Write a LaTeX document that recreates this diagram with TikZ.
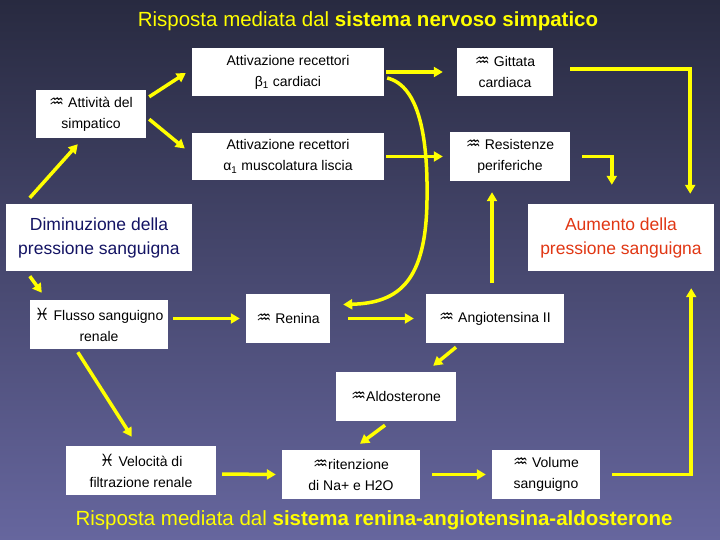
\documentclass[tikz,border=0pt]{standalone}
\usepackage{fontspec}
\setmainfont{Liberation Sans}
\newfontfamily\symf{DejaVu Sans}
\usetikzlibrary{arrows.meta,calc}
\newcommand\upsym{{\symf\scalebox{1.2}{\char"2652}}}
\newcommand\downsym{{\symf\scalebox{1.2}{\char"2653}}}
\definecolor{bgtop}{RGB}{40,42,64}
\definecolor{bgbot}{RGB}{102,102,158}
\definecolor{arrowyellow}{RGB}{255,255,0}
\definecolor{navytxt}{RGB}{20,20,100}
\definecolor{redtxt}{RGB}{225,55,20}
\tikzset{
  box/.style={fill=white, inner sep=0pt, align=center, font=\fontsize{14}{21}\selectfont},
  bigbox/.style={fill=white, inner sep=0pt, align=center, font=\fontsize{17.5}{24}\selectfont},
  arr/.style={draw=arrowyellow, line width=3.5pt, -{Triangle[length=9pt,width=10pt]}},
  ttl/.style={text=arrowyellow, inner sep=0pt, font=\fontsize{20.5}{24}\selectfont}
}
\begin{document}
\begin{tikzpicture}[x=1pt,y=-1pt]
\shade[top color=bgtop, bottom color=bgbot] (0,0) rectangle (720,540);
\useasboundingbox (0,0) rectangle (720,540);

\node[ttl] (ttl1) at (368,21) {Risposta mediata dal \textbf{sistema nervoso simpatico}};
\node[ttl] (ttl2) at (374,520) {Risposta mediata dal \textbf{sistema renina-angiotensina-aldosterone}};

\node[box, minimum width=110pt, minimum height=48pt] (att) at (91,114) {\upsym\ Attività del\\simpatico};
\node[box, minimum width=192pt, minimum height=48pt] (beta) at (288,72) {Attivazione recettori\\β\textsubscript{1} cardiaci};
\node[box, minimum width=192pt, minimum height=47pt] (alpha) at (288,156.5) {Attivazione recettori\\α\textsubscript{1} muscolatura liscia};
\node[box, minimum width=96pt, minimum height=48pt] (gitt) at (505,72) {\upsym\ Gittata\\cardiaca};
\node[box, minimum width=120pt, minimum height=49pt] (resist) at (510,156.5) {\upsym\ Resistenze\\periferiche};
\node[bigbox, text=redtxt, minimum width=186pt, minimum height=67pt] (aum) at (621,237.5) {Aumento della\\pressione sanguigna};
\node[bigbox, text=navytxt, minimum width=186pt, minimum height=67pt] (dim) at (99,237.5) {Diminuzione della\\pressione sanguigna};
\node[box, minimum width=138pt, minimum height=49pt] (flusso) at (99,324.5) {\downsym\ Flusso sanguigno\\renale};
\node[box, minimum width=84pt, minimum height=49pt] (renina) at (288,318.5) {\upsym\ Renina};
\node[box, minimum width=138pt, minimum height=49pt] (angio) at (495,318.5) {\upsym\ Angiotensina II};
\node[box, minimum width=120pt, minimum height=49pt] (aldo) at (396,396.5) {\upsym Aldosterone};
\node[box, minimum width=150pt, minimum height=49pt] (vel) at (141,470.5) {\downsym\ Velocità di\\filtrazione renale};
\node[box, minimum width=138pt, minimum height=49pt] (rit) at (351,474.5) {\upsym ritenzione\\di Na+ e H2O};
\node[box, minimum width=108pt, minimum height=49pt] (vol) at (546,474.5) {\upsym\ Volume\\sanguigno};

% connectors
\draw[arr] ($(dim.north west)+(24,-6)$) -- ($(att.south west)+(42,6)$);
\draw[arr] ($(att.north east)+(3,7)$) -- ($(beta.west)+(-6,1)$);
\draw[arr] ($(att.south east)+(3,-19)$) -- ($(alpha.west)+(-7,-8)$);
\draw[arr] ($(beta.east)+(2,0)$) -- ($(gitt.west)+(-14,0)$);
\draw[arr] ($(alpha.east)+(2,0)$) -- ($(resist.west)+(-7,0)$);
\draw[arr] ($(beta.east)+(3,6)$) .. controls (420,86) and (428,140) .. (427,200)
  .. controls (426,280) and (400,303) .. ($(renina.east)+(13,-14)$);
\draw[arr] ($(gitt.east)+(17,-3)$) -| ($(aum.north east)+(-24,-10)$);
\draw[arr] ($(resist.east)+(12,0)$) -| ($(aum.north west)+(84,-19)$);
\draw[arr] ($(vol.east)+(12,0)$) -| ($(aum.south east)+(-23,17)$);
\draw[arr] ($(angio.north)+(-3,-11)$) -- ($(resist.south)+(-18,11)$);
\draw[arr] ($(renina.east)+(18,0)$) -- ($(angio.west)+(-12,0)$);
\draw[arr] ($(flusso.east)+(5,-6)$) -- ($(renina.west)+(-6,0)$);
\draw[arr] ($(dim.south west)+(24,5)$) -- ($(flusso.north west)+(12,-7)$);
\draw[arr] ($(flusso.south west)+(48,3)$) -- ($(vel.north west)+(66,-9)$);
\draw[arr] ($(vel.east)+(6,3.5)$) -- ($(rit.west)+(-6,0)$);
\draw[arr] ($(rit.east)+(12,0)$) -- ($(vol.west)+(-6,0)$);
\draw[arr] ($(angio.south)+(-39,4)$) -- ($(aldo.north east)+(-23,-6)$);
\draw[arr] ($(aldo.south)+(-11,4)$) -- ($(rit.north)+(9,-6)$);
\end{tikzpicture}
\end{document}
